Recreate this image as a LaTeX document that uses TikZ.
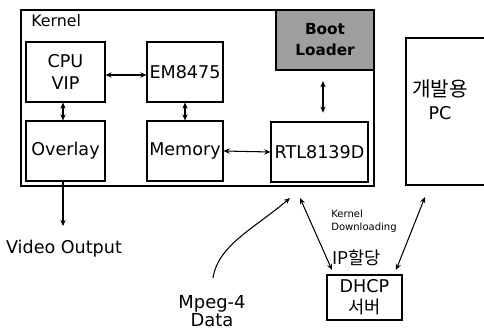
\documentclass[tikz,border=0pt]{standalone}
\usepackage{fontspec}
\setmainfont{DejaVu Sans}
\newfontfamily\kr{Noto Sans CJK KR}
\usetikzlibrary{arrows.meta}
\begin{document}
\begin{tikzpicture}[x=0.02cm,y=-0.02cm,
  every node/.style={inner sep=0pt},
  blk/.style={draw,line width=0.6pt,align=center,font=\fontsize{10}{11}\selectfont},
  dar/.style={line width=0.6pt,{Stealth[length=3.5pt,width=3pt]}-{Stealth[length=3.5pt,width=3pt]}},
  sar/.style={line width=0.6pt,-{Stealth[length=3.5pt,width=3pt]}},
  lbl/.style={align=center,font=\fontsize{10}{12}\selectfont}]
\useasboundingbox (0,0) rectangle (484,330);
% Kernel outline
\draw[line width=0.6pt] (276,10) -- (21,10) -- (21,186) -- (374,186) -- (374,70);
\node[anchor=west,font=\fontsize{9}{10}\selectfont] (klbl) at (31,21) {Kernel};
\node[blk,minimum width=1.58cm,minimum height=1.2cm] (cpu) at (65.5,72) {CPU\\[2pt]VIP};
\node[blk,minimum width=1.52cm,minimum height=1.2cm] (em) at (185,72) {EM8475};
\node[blk,minimum width=1.58cm,minimum height=1.2cm] (ovl) at (65.5,151) {Overlay};
\node[blk,minimum width=1.52cm,minimum height=1.2cm] (mem) at (185,151) {Memory};
\node[blk,minimum width=1.94cm,minimum height=1.2cm] (rtl) at (319.5,152) {RTL8139D};
\node[blk,fill=black!38,minimum width=1.96cm,minimum height=1.2cm,font=\bfseries\fontsize{8.7}{10}\selectfont] (boot) at (325,40) {Boot\\[2pt]Loader};
% PC box (open at right)
\draw[line width=0.6pt] (484,38) -- (406,38) -- (406,185) -- (484,185);
\node[lbl] (pc) at (440,100) {{\kr\fontsize{11.5}{12}\selectfont 개발용}\\[1pt]PC};
\node[blk,minimum width=1.5cm,minimum height=0.9cm] (dhcp) at (364.5,297.5) {DHCP\\[1pt]{\kr 서버}};
% texts
\node[lbl] (vo) at (64,249) {Video Output};
\node[align=center,font=\fontsize{10.2}{8}\selectfont] (mpeg) at (212,311) {Mpeg-4\\Data};
\node[anchor=west,align=left,font=\fontsize{5.7}{7.5}\selectfont] (kd) at (331,221) {Kernel\\Downloading};
\node[anchor=west,font=\kr\fontsize{10}{11}\selectfont] (ip) at (332,258) {IP할당};
% coordinates
\coordinate (mtip) at (290,198);
\coordinate (mstart) at (213,278);
\coordinate (kdt) at (300,198);
\coordinate (kdb) at (332,270);
\coordinate (pct) at (425,197);
\coordinate (pcb) at (396,270);
% connectors
\draw[dar] (cpu.east |- 0,75) -- (em.west |- 0,75);
\draw[dar] (cpu.south -| 63,0) -- (ovl.north -| 63,0);
\draw[dar] (em.south) -- (mem.north);
\draw[dar] (mem.east) -- (rtl.west);
\draw[dar,shorten <=6pt,shorten >=5pt] (boot.south -| 323,0) -- (rtl.north -| 323,0);
\draw[sar,shorten >=8pt] (ovl.south -| 63,0) -- (vo.north -| 63,0);
\draw[sar] (mstart) .. controls (218,245) and (255,228) .. (mtip);
\draw[dar] (kdt) -- (kdb);
\draw[dar] (pct) -- (pcb);
\end{tikzpicture}
\end{document}
